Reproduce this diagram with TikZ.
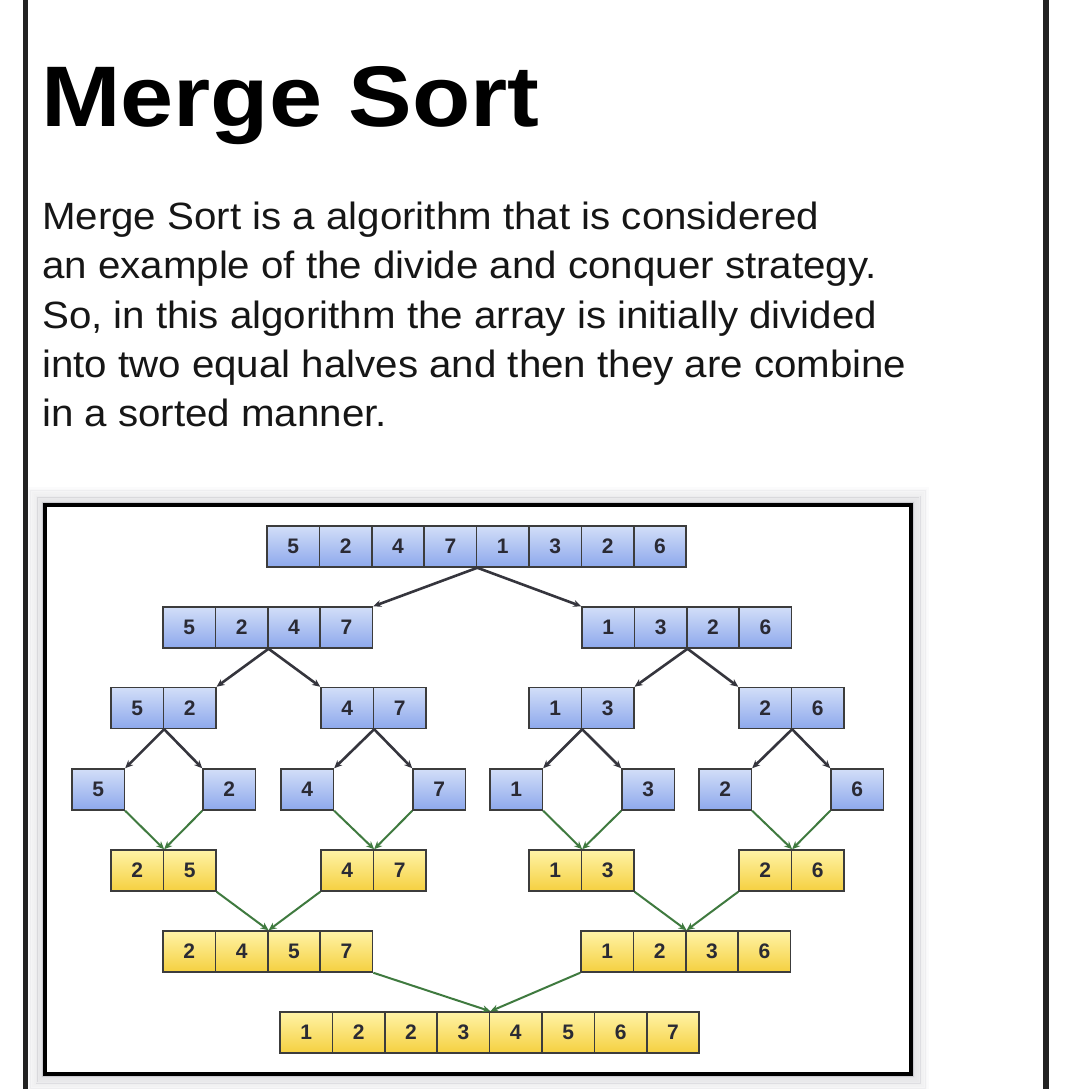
\documentclass[tikz,border=0pt]{standalone}
\usepackage{fontspec}
\setmainfont{Liberation Sans}
\newfontfamily\titlefont[FakeStretch=1.11]{Liberation Sans}
\newfontfamily\bodyfont[FakeStretch=1.06]{Liberation Sans}
\usetikzlibrary{arrows.meta}
\definecolor{bluetop}{HTML}{D2DEF8}
\definecolor{bluebot}{HTML}{8DA8EC}
\definecolor{yeltop}{HTML}{FFF3A6}
\definecolor{yelbot}{HTML}{F5D040}
\definecolor{cellborder}{HTML}{3C3C3C}
\definecolor{digit}{HTML}{2A2A34}
\definecolor{divcol}{HTML}{35353D}
\definecolor{mergecol}{HTML}{3F7A3F}
\definecolor{textcol}{HTML}{161616}
\definecolor{rulecol}{HTML}{222222}
\definecolor{shadowcol}{HTML}{5A5A6A}
\newcommand\cellrow[5]{%
  \foreach \d [count=\i] in {#5}{\node[#4] (#1-\i) at ({#2+(\i-0.5)*52.4},{#3}) {\d};}}
\tikzset{
  cell/.style={draw=cellborder, line width=1.5pt, minimum width=52.4pt, minimum height=41pt,
    inner sep=0pt, font=\fontsize{21}{21}\selectfont\bfseries, text=digit},
  bluecell/.style={cell, top color=bluetop, bottom color=bluebot},
  yelcell/.style={cell, top color=yeltop, bottom color=yelbot},
  divide/.style={draw=divcol, line width=2.6pt, -{Stealth[length=8pt,width=7pt]}},
  merge/.style={draw=mergecol, line width=2pt, -{Stealth[length=8pt,width=7pt]}},
  body/.style={anchor=base west, inner sep=0pt, text=textcol, font=\bodyfont\fontsize{38}{38}\selectfont},
}
\begin{document}
\begin{tikzpicture}[x=1pt, y=-1pt]
\useasboundingbox (0,0) rectangle (1080,1089);
\fill[white] (0,0) rectangle (1080,1089);
% page rules
\draw[rulecol, line width=5pt] (25.5,0) -- (25.5,1089);
\draw[rulecol, line width=6pt] (1046,0) -- (1046,1089);
% title and text
\node[anchor=base west, inner sep=0pt, text=black, font=\titlefont\bfseries\fontsize{86}{90}\selectfont] (title) at (41,127) {Merge Sort};
\node[body] (l1) at (42,229) {Merge Sort is a algorithm that is considered};
\node[body] (l2) at (42,278) {an example of the divide and conquer strategy.};
\node[body] (l3) at (42,328) {So, in this algorithm the array is initially divided};
\node[body] (l4) at (42,377) {into two equal halves and then they are combine};
\node[body] (l5) at (42,426) {in a sorted manner.};
% frame with blurred shadow
\foreach \k in {1,...,10}{
  \pgfmathsetmacro\op{0.20-\k*0.018}
  \draw[shadowcol, opacity=\op, line width=2pt] ({45-\k*1.7},{505-\k*1.7}) rectangle ({911+\k*1.7},{1074+\k*1.7});
}
\fill[white] (45,505) rectangle (911,1074);
\draw[black, line width=4pt] (45,505) rectangle (911,1074);
% arrays
\cellrow{A}{267}{546.5}{bluecell}{5,2,4,7,1,3,2,6}
\cellrow{BL}{163}{627.5}{bluecell}{5,2,4,7}
\cellrow{BR}{582}{627.5}{bluecell}{1,3,2,6}
\cellrow{CA}{111}{708}{bluecell}{5,2}
\cellrow{CB}{321}{708}{bluecell}{4,7}
\cellrow{CC}{529}{708}{bluecell}{1,3}
\cellrow{CD}{739}{708}{bluecell}{2,6}
\cellrow{D1}{72}{789.5}{bluecell}{5}
\cellrow{D2}{203}{789.5}{bluecell}{2}
\cellrow{D3}{281}{789.5}{bluecell}{4}
\cellrow{D4}{413}{789.5}{bluecell}{7}
\cellrow{D5}{490}{789.5}{bluecell}{1}
\cellrow{D6}{622}{789.5}{bluecell}{3}
\cellrow{D7}{699}{789.5}{bluecell}{2}
\cellrow{D8}{831}{789.5}{bluecell}{6}
\cellrow{EA}{111}{870.5}{yelcell}{2,5}
\cellrow{EB}{321}{870.5}{yelcell}{4,7}
\cellrow{EC}{529}{870.5}{yelcell}{1,3}
\cellrow{ED}{739}{870.5}{yelcell}{2,6}
\cellrow{FL}{163}{951.5}{yelcell}{2,4,5,7}
\cellrow{FR}{581}{951.5}{yelcell}{1,2,3,6}
\cellrow{G}{280}{1032.5}{yelcell}{1,2,2,3,4,5,6,7}
% divide connectors
\draw[divide] (A-4.south east) -- (BL-4.north east);
\draw[divide] (A-4.south east) -- (BR-1.north west);
\draw[divide] (BL-2.south east) -- (CA-2.north east);
\draw[divide] (BL-2.south east) -- (CB-1.north west);
\draw[divide] (BR-2.south east) -- (CC-2.north east);
\draw[divide] (BR-2.south east) -- (CD-1.north west);
\draw[divide] (CA-1.south east) -- (D1-1.north east);
\draw[divide] (CA-1.south east) -- (D2-1.north west);
\draw[divide] (CB-1.south east) -- (D3-1.north east);
\draw[divide] (CB-1.south east) -- (D4-1.north west);
\draw[divide] (CC-1.south east) -- (D5-1.north east);
\draw[divide] (CC-1.south east) -- (D6-1.north west);
\draw[divide] (CD-1.south east) -- (D7-1.north east);
\draw[divide] (CD-1.south east) -- (D8-1.north west);
% merge connectors
\draw[merge] (D1-1.south east) -- (EA-1.north east);
\draw[merge] (D2-1.south west) -- (EA-1.north east);
\draw[merge] (D3-1.south east) -- (EB-1.north east);
\draw[merge] (D4-1.south west) -- (EB-1.north east);
\draw[merge] (D5-1.south east) -- (EC-1.north east);
\draw[merge] (D6-1.south west) -- (EC-1.north east);
\draw[merge] (D7-1.south east) -- (ED-1.north east);
\draw[merge] (D8-1.south west) -- (ED-1.north east);
\draw[merge] (EA-2.south east) -- (FL-2.north east);
\draw[merge] (EB-1.south west) -- (FL-2.north east);
\draw[merge] (EC-2.south east) -- (FR-2.north east);
\draw[merge] (ED-1.south west) -- (FR-2.north east);
\draw[merge] (FL-4.south east) -- (G-4.north east);
\draw[merge] (FR-1.south west) -- (G-4.north east);
\end{tikzpicture}
\end{document}
